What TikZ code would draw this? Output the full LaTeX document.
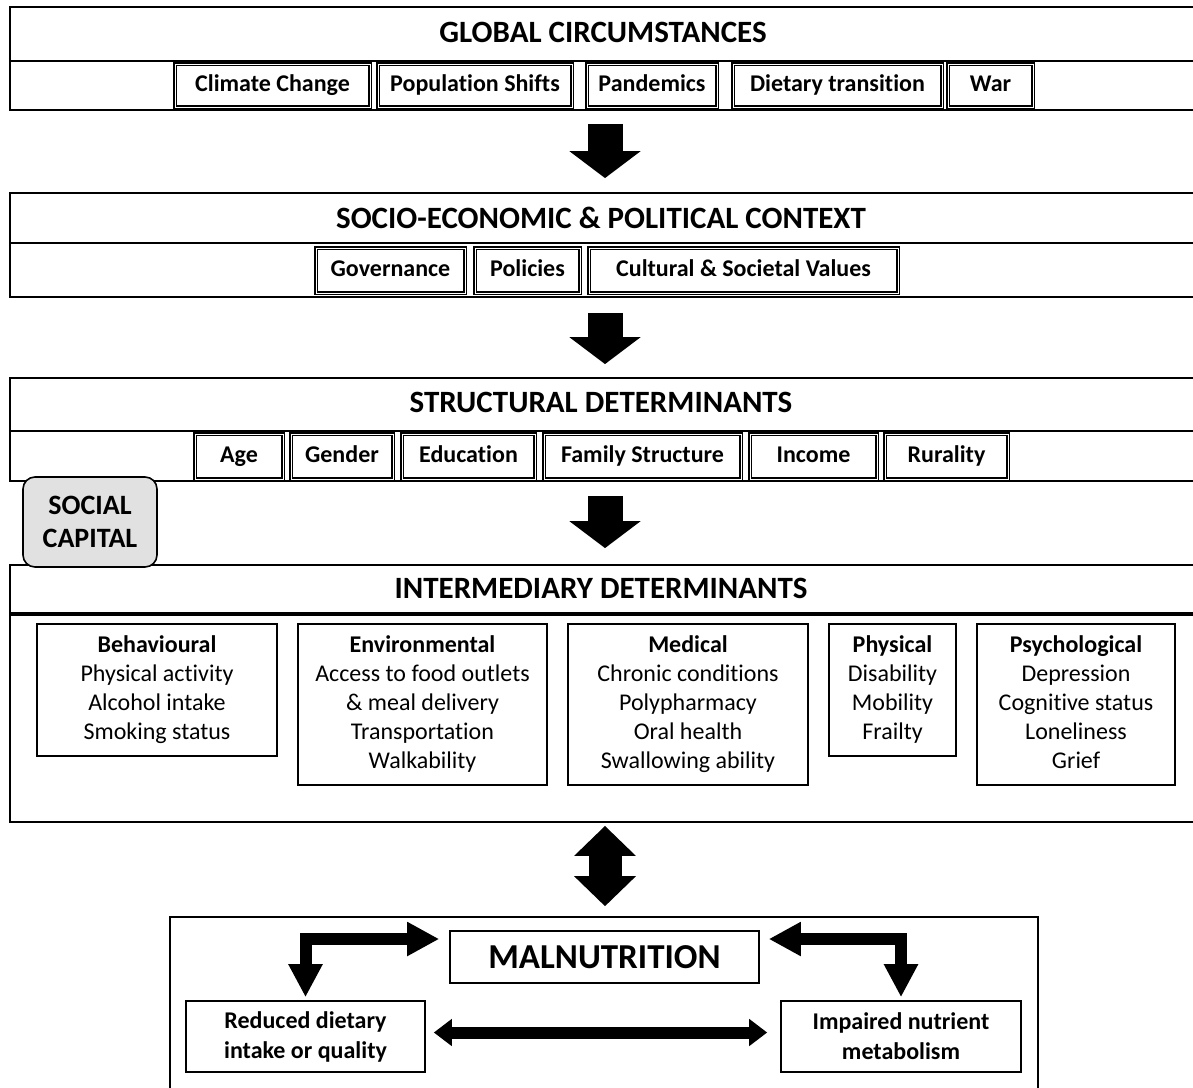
\documentclass[tikz,border=0pt]{standalone}
\usepackage{fontspec}
\setmainfont[Ligatures=NoCommon]{Carlito}
\usetikzlibrary{arrows.meta}

\definecolor{capgray}{HTML}{E1E1E1}

\tikzset{
    band/.style={draw, line width=0.9pt, minimum width=595pt, inner sep=0pt},
    bandtitle/.style={font=\fontsize{15.5}{18}\selectfont\bfseries},
    item/.style={draw, double, double distance=0.45pt, line width=0.6pt, inner sep=0pt,
        text height=9pt, text depth=3pt, font=\fontsize{12}{14}\selectfont\bfseries},
    factor/.style={draw, line width=0.8pt, anchor=north, align=center, inner xsep=0pt, inner ysep=4pt,
        font=\fontsize{12}{14.5}\selectfont},
    outcome/.style={draw, line width=0.8pt, align=center, inner sep=0pt,
        font=\fontsize{12}{15}\selectfont\bfseries},
    downarrow/.style={line width=17.5pt, -{Triangle[width=35pt,length=13.5pt]}},
    bothways/.style={line width=16.5pt, {Triangle[width=30pt,length=15pt]}-{Triangle[width=30pt,length=15pt]}},
    elbow/.style={line width=6pt, {Triangle[width=16pt,length=16.5pt]}-{Triangle[width=16pt,length=16pt]}},
    across/.style={line width=6pt, {Triangle[width=13pt,length=9pt]}-{Triangle[width=13pt,length=9pt]}}
}

\begin{document}
\begin{tikzpicture}[x=0.5pt, y=-0.5pt]
    \useasboundingbox (0,0) rectangle (1193,1087);
    \clip (0,0) rectangle (1193,1087);

    % global circumstances
    \node[band, minimum height=51.5pt] (glob) at (605,58.5) {};
    \draw[line width=0.9pt] (glob.west |- 0,61) -- (glob.east |- 0,61);
    \node[bandtitle] (globtitle) at (603,32) {GLOBAL CIRCUMSTANCES};
    \node[item, minimum width=97.5pt, minimum height=21.5pt] (climate) at (272.5,85.5) {Climate Change};
    \node[item, minimum width=97pt, minimum height=21.5pt] (population) at (475,85.5) {Population Shifts};
    \node[item, minimum width=65pt, minimum height=21.5pt] (pandemics) at (652,85.5) {Pandemics};
    \node[item, minimum width=104.5pt, minimum height=21.5pt] (dietary) at (837.5,85.5) {Dietary transition};
    \node[item, minimum width=42.5pt, minimum height=21.5pt] (war) at (990.5,85.5) {War};

    % socio-economic and political context
    \node[band, minimum height=52pt] (socio) at (605,245) {};
    \draw[line width=0.9pt] (socio.west |- 0,243) -- (socio.east |- 0,243);
    \node[bandtitle] (sociotitle) at (601,218) {SOCIO-ECONOMIC \& POLITICAL CONTEXT};
    \node[item, minimum width=74.5pt, minimum height=22.5pt] (governance) at (390.5,270.5) {Governance};
    \node[item, minimum width=52.5pt, minimum height=22.5pt] (policies) at (527.5,270.5) {Policies};
    \node[item, minimum width=154.5pt, minimum height=22.5pt] (values) at (743.5,270.5) {Cultural \& Societal Values};

    % structural determinants
    \node[band, minimum height=51.5pt] (struct) at (605,429.5) {};
    \draw[line width=0.9pt] (struct.west |- 0,431) -- (struct.east |- 0,431);
    \node[bandtitle] (structtitle) at (601,402) {STRUCTURAL DETERMINANTS};
    \node[item, minimum width=44pt, minimum height=22.5pt] (age) at (239,456.5) {Age};
    \node[item, minimum width=51pt, minimum height=22.5pt] (gender) at (342,456.5) {Gender};
    \node[item, minimum width=66.5pt, minimum height=22.5pt] (education) at (468.5,456.5) {Education};
    \node[item, minimum width=98.5pt, minimum height=22.5pt] (family) at (642.5,456.5) {Family Structure};
    \node[item, minimum width=63.5pt, minimum height=22.5pt] (income) at (813.5,456.5) {Income};
    \node[item, minimum width=61.5pt, minimum height=22.5pt] (rurality) at (946.5,456.5) {Rurality};

    % intermediary determinants
    \node[band, minimum height=128.5pt] (inter) at (605,693.5) {};
    \draw[line width=1.8pt] (inter.west |- 0,614) -- (inter.east |- 0,614);
    \node[bandtitle] (intertitle) at (601,588) {INTERMEDIARY DETERMINANTS};
    \node[factor, minimum width=120pt] (behav) at (157,623)
        {\strut\textbf{Behavioural}\\Physical activity\\Alcohol intake\\Smoking status\strut};
    \node[factor, minimum width=124.5pt] (environ) at (422.5,623)
        {\strut\textbf{Environmental}\\Access to food outlets\\\& meal delivery\\Transportation\\Walkability\strut};
    \node[factor, minimum width=120pt] (medical) at (688,623)
        {\strut\textbf{Medical}\\Chronic conditions\\Polypharmacy\\Oral health\\Swallowing ability\strut};
    \node[factor, minimum width=63.5pt] (physical) at (892.5,623)
        {\strut\textbf{Physical}\\Disability\\Mobility\\Frailty\strut};
    \node[factor, minimum width=99pt] (psycho) at (1076,623)
        {\strut\textbf{Psychological}\\Depression\\Cognitive status\\Loneliness\\Grief\strut};

    % social capital
    \node[draw, line width=0.8pt, fill=capgray, rounded corners=6pt, align=center,
        minimum width=67pt, minimum height=45pt, inner sep=0pt,
        font=\fontsize{14}{16.5}\selectfont\bfseries] (social) at (90,522) {SOCIAL\\CAPITAL};

    % malnutrition
    \node[draw, line width=0.8pt, minimum width=434pt, minimum height=89pt] (frame) at (604,1006) {};
    \node[outcome, minimum width=154.5pt, minimum height=26pt,
        font=\fontsize{17.5}{20}\selectfont\bfseries] (mal) at (604.5,957) {MALNUTRITION};
    \node[outcome, minimum width=119.5pt, minimum height=35.5pt] (reduced) at (305.5,1036.5)
        {Reduced dietary\\intake or quality};
    \node[outcome, minimum width=120pt, minimum height=35.5pt] (impaired) at (901,1036.5)
        {Impaired nutrient\\metabolism};

    \draw[downarrow, shorten <=6.5pt, shorten >=7pt] (glob.south) -- (socio.north);
    \draw[downarrow, shorten <=7.5pt, shorten >=6.5pt] (socio.south) -- (struct.north);
    \draw[downarrow, shorten <=7pt, shorten >=8pt] (struct.south) -- (inter.north);
    \draw[bothways, shorten <=1.5pt, shorten >=5pt] (inter.south) -- (inter.south |- frame.north);

    \draw[elbow, shorten <=1.5pt] (reduced.north) |- ([xshift=-5pt,yshift=9pt]mal.west);
    \draw[elbow, shorten <=1.5pt] (impaired.north) |- ([xshift=4.5pt,yshift=9pt]mal.east);
    \draw[across, shorten <=4pt, shorten >=6.5pt] ([yshift=2pt]reduced.east) -- ([yshift=2pt]impaired.west);
\end{tikzpicture}
\end{document}
